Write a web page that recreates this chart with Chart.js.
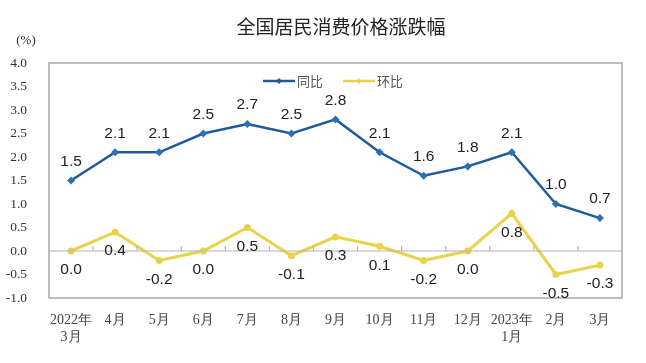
<!DOCTYPE html>
<html>
<head>
<meta charset="utf-8">
<script src="https://cdn.jsdelivr.net/npm/chart.js@4/dist/chart.umd.min.js"></script>
<style>
  html, body { margin: 0; padding: 0; background: #fff; }
  #wrap { width: 646px; height: 363px; }
</style>
</head>
<body>
<div id="wrap"><canvas id="cpiChart" width="646" height="363"></canvas></div>
<script>
// Data
const months = [['2022年', '3月'], '4月', '5月', '6月', '7月', '8月', '9月', '10月', '11月', '12月', ['2023年', '1月'], '2月', '3月'];
const yoy = [1.5, 2.1, 2.1, 2.5, 2.7, 2.5, 2.8, 2.1, 1.6, 1.8, 2.1, 1.0, 0.7];
const mom = [0.0, 0.4, -0.2, 0.0, 0.5, -0.1, 0.3, 0.1, -0.2, 0.0, 0.8, -0.5, -0.3];
const yTicks = [-1.0, -0.5, 0.0, 0.5, 1.0, 1.5, 2.0, 2.5, 3.0, 3.5, 4.0];

const titleText = '全国居民消费价格涨跌幅';
const blue = '#1f5b9c';
const yellow = '#e8d44a';
const serif = '"Liberation Serif", "Times New Roman", serif';
const cjk = '"Noto Sans CJK SC", "Noto Sans", sans-serif';

// Title, unit label, frame, zero line, legend and value labels
const decorPlugin = {
    id: 'decor',
    afterDraw(chart) {
        const { ctx, chartArea: a, scales } = chart;
        const x = scales.x, y = scales.y;
        ctx.save();
        // title
        ctx.fillStyle = '#222';
        ctx.font = '19px ' + cjk;
        ctx.textAlign = 'center';
        ctx.textBaseline = 'middle';
        ctx.fillText(titleText, 341, 27);
        // unit
        ctx.font = '13px ' + serif;
        ctx.fillStyle = '#333';
        ctx.fillText('(%)', 26, 41);
        // zero line with small ticks
        const y0 = y.getPixelForValue(0);
        ctx.strokeStyle = '#b4b4b4';
        ctx.lineWidth = 1.2;
        ctx.beginPath();
        ctx.moveTo(a.left, y0);
        ctx.lineTo(a.right, y0);
        const half = (x.getPixelForValue(1) - x.getPixelForValue(0)) / 2;
        for (let i = 1; i < months.length; i++) {
            const px = x.getPixelForValue(i) - half;
            ctx.moveTo(px, y0);
            ctx.lineTo(px, y0 - 5);
        }
        ctx.stroke();
        // frame
        ctx.strokeStyle = '#a8a8a8';
        ctx.lineWidth = 1.5;
        ctx.strokeRect(a.left, a.top, a.right - a.left, a.bottom - a.top);
        // legend
        const items = [
            { label: '同比', color: blue, x0: 263 },
            { label: '环比', color: yellow, x0: 343 }
        ];
        ctx.font = '13px ' + cjk;
        ctx.textAlign = 'left';
        items.forEach(it => {
            ctx.strokeStyle = it.color;
            ctx.lineWidth = 2.5;
            ctx.beginPath();
            ctx.moveTo(it.x0, 81);
            ctx.lineTo(it.x0 + 32, 81);
            ctx.stroke();
            ctx.fillStyle = it.color;
            ctx.beginPath();
            ctx.moveTo(it.x0 + 16, 78);
            ctx.lineTo(it.x0 + 19, 81);
            ctx.lineTo(it.x0 + 16, 84);
            ctx.lineTo(it.x0 + 13, 81);
            ctx.fill();
            ctx.fillStyle = '#555';
            ctx.fillText(it.label, it.x0 + 34, 81);
        });
        // value labels
        ctx.font = '15.5px "Liberation Sans", Arial, sans-serif';
        ctx.fillStyle = '#222';
        ctx.textAlign = 'center';
        chart.data.datasets.forEach((ds, di) => {
            const meta = chart.getDatasetMeta(di);
            const dy = di === 0 ? -19 : 19;
            meta.data.forEach((pt, i) => {
                ctx.fillText(ds.data[i].toFixed(1), pt.x, pt.y + dy);
            });
        });
        ctx.restore();
    }
};

const chart = new Chart(document.getElementById('cpiChart'), {
    type: 'line',
    data: {
        labels: months,
        datasets: [{
            label: '同比',
            data: yoy,
            borderColor: blue,
            backgroundColor: '#2a6fb8',
            borderWidth: 2.5,
            pointStyle: 'rectRot',
            pointRadius: 4,
            pointBorderWidth: 0,
            tension: 0
        }, {
            label: '环比',
            data: mom,
            borderColor: yellow,
            backgroundColor: yellow,
            borderWidth: 3,
            pointStyle: 'circle',
            pointRadius: 3.5,
            pointBorderWidth: 0,
            tension: 0
        }]
    },
    options: {
        responsive: false,
        animation: false,
        layout: { padding: { left: 0, right: 24, top: 63, bottom: 0 } },
        plugins: {
            legend: { display: false },
            title: { display: false },
            tooltip: { enabled: false }
        },
        scales: {
            x: {
                offset: true,
                grid: { display: false },
                border: { display: false },
                ticks: {
                    color: '#444',
                    font: { family: serif, size: 14 },
                    padding: 6,
                    maxRotation: 0,
                    autoSkip: false
                },
                afterFit(scale) { scale.height = 65; }
            },
            y: {
                min: -1,
                max: 4,
                grid: { display: false },
                border: { display: false },
                afterBuildTicks(scale) { scale.ticks = yTicks.map(v => ({ value: v })); },
                ticks: {
                    color: '#333',
                    font: { family: serif, size: 13.5 },
                    padding: 14,
                    callback: v => v.toFixed(1)
                },
                afterFit(scale) { scale.width = 49; }
            }
        }
    },
    plugins: [decorPlugin]
});
</script>
</body>
</html>
